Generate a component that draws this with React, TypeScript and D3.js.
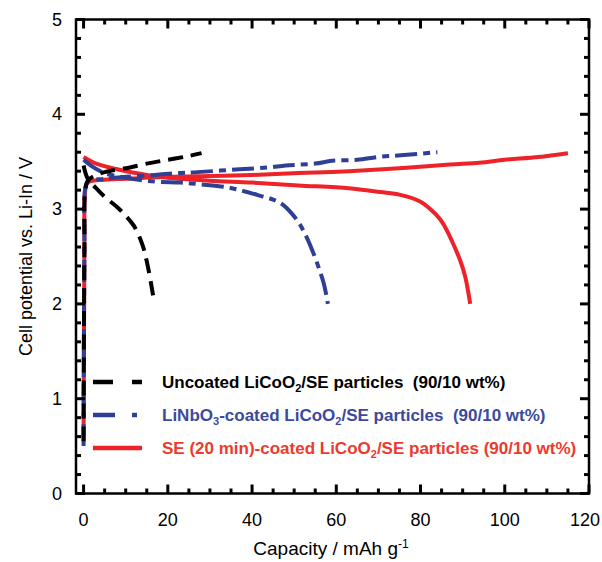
import React, { useEffect, useRef } from "react";
import * as d3 from "d3";

// capacity (mAh/g), potential (V)
const uncoatedCharge: [number, number][] = [
  [0, 0.55], [0.2, 2.6], [0.4, 3.2], [1, 3.3], [3, 3.36], [6, 3.4], [10, 3.43],
  [15, 3.48], [20, 3.52], [25, 3.56], [28, 3.59],
];
const uncoatedDischarge: [number, number][] = [
  [0, 3.46], [1, 3.32], [3, 3.22], [5, 3.13], [8, 3.02], [10, 2.93], [12, 2.82],
  [14, 2.62], [15, 2.45], [16, 2.22], [16.5, 2.09],
];
const niobateCharge: [number, number][] = [
  [0, 0.5], [0.2, 2.6], [0.4, 3.22], [1, 3.29], [5, 3.32], [10, 3.34], [17, 3.36],
  [22, 3.38], [27, 3.39], [37, 3.42], [44, 3.44], [48, 3.46], [55, 3.48],
  [59, 3.51], [65, 3.52], [70, 3.55], [76, 3.57], [84, 3.6],
];
const niobateDischarge: [number, number][] = [
  [0, 3.52], [2, 3.45], [5, 3.38], [10, 3.33], [17, 3.29], [23, 3.28], [28, 3.26],
  [34, 3.23], [38, 3.19], [42, 3.14], [45, 3.1], [47.5, 3.04], [49.5, 2.95],
  [51.2, 2.85], [53, 2.7], [54.7, 2.52], [56, 2.36], [57, 2.22], [57.6, 2.1], [58, 2.0],
];
const seCharge: [number, number][] = [
  [0, 0.6], [0.2, 2.6], [0.4, 3.2], [1, 3.28], [5, 3.31], [10, 3.32], [20, 3.34],
  [30, 3.35], [40, 3.36], [51, 3.38], [63, 3.4], [75, 3.43], [87, 3.47],
  [94, 3.49], [100, 3.52], [108, 3.55], [115, 3.59],
];
const seDischarge: [number, number][] = [
  [0, 3.55], [3, 3.48], [8, 3.42], [15, 3.36], [20, 3.33], [30, 3.3], [40, 3.28],
  [51, 3.25], [63, 3.22], [70.4, 3.18], [75.2, 3.15], [79.9, 3.08], [82.3, 3.0],
  [84.7, 2.89], [86.2, 2.78], [87.7, 2.64], [89.4, 2.46], [90.6, 2.29], [91.8, 2.0],
];

const xTicks = [0, 20, 40, 60, 80, 100, 120];
const yTicks = [0, 1, 2, 3, 4, 5];

const BLACK = "#000000";
const BLUE = "#2f3f95";
const RED = "#ee2229";

const App = () => {
  const svgRef = useRef<SVGSVGElement>(null);

  useEffect(() => {
    document.body.style.margin = "0";
    const svg = d3.select(svgRef.current);
    svg.selectAll("*").remove();

    const left = 76, right = 589, top = 19.5, bottom = 493.5;
    const x = d3.scaleLinear().domain([-1.8, 120]).range([left, right]);
    const y = d3.scaleLinear().domain([0, 5]).range([bottom, top]);
    const font = "'Liberation Sans', Arial, sans-serif";

    const line = d3
      .line<[number, number]>()
      .x((d) => x(d[0]))
      .y((d) => y(d[1]))
      .curve(d3.curveCatmullRom.alpha(0.5));

    const series = [
      { data: seCharge, color: RED, dash: null },
      { data: seDischarge, color: RED, dash: null },
      { data: niobateCharge, color: BLUE, dash: "22 6 7 6" },
      { data: niobateDischarge, color: BLUE, dash: "22 6 7 6" },
      { data: uncoatedCharge, color: BLACK, dash: "15 8" },
      { data: uncoatedDischarge, color: BLACK, dash: "15 8" },
    ];

    series.forEach((s) => {
      svg
        .append("path")
        .attr("d", line(s.data))
        .attr("fill", "none")
        .attr("stroke", s.color)
        .attr("stroke-width", 4)
        .attr("stroke-dasharray", s.dash);
    });

    // frame
    svg
      .append("rect")
      .attr("x", left)
      .attr("y", top)
      .attr("width", right - left)
      .attr("height", bottom - top)
      .attr("fill", "none")
      .attr("stroke", "#000")
      .attr("stroke-width", 2.5);

    // ticks, inward on all sides
    const xMinor = d3.range(0, 121, 5);
    const yMinor = d3.range(0, 5.01, 0.2);
    const ticks = svg.append("g").attr("stroke", "#000").attr("stroke-width", 3);
    xMinor.forEach((v) => {
      const len = v % 20 === 0 ? 9 : 5;
      ticks.append("line").attr("x1", x(v)).attr("x2", x(v)).attr("y1", bottom).attr("y2", bottom - len);
      ticks.append("line").attr("x1", x(v)).attr("x2", x(v)).attr("y1", top).attr("y2", top + len);
    });
    yMinor.forEach((v) => {
      const major = Math.abs(v - Math.round(v)) < 1e-6;
      const len = major ? 9 : 5;
      ticks.append("line").attr("x1", left).attr("x2", left + len).attr("y1", y(v)).attr("y2", y(v));
      ticks.append("line").attr("x1", right).attr("x2", right - len).attr("y1", y(v)).attr("y2", y(v));
    });

    // tick labels (last one kept inside the page)
    svg
      .append("g")
      .selectAll("text")
      .data(xTicks)
      .join("text")
      .attr("x", (d) => Math.min(x(d), 585))
      .attr("y", 526)
      .attr("text-anchor", "middle")
      .attr("font-family", font)
      .attr("font-size", 18)
      .text((d) => d);

    svg
      .append("g")
      .selectAll("text")
      .data(yTicks)
      .join("text")
      .attr("x", 62)
      .attr("y", (d) => y(d) + 6)
      .attr("text-anchor", "end")
      .attr("font-family", font)
      .attr("font-size", 18)
      .text((d) => d);

    // axis titles
    const xt = svg
      .append("text")
      .attr("x", 331)
      .attr("y", 555)
      .attr("text-anchor", "middle")
      .attr("font-family", font)
      .attr("font-size", 19);
    xt.append("tspan").text("Capacity / mAh g");
    xt.append("tspan").attr("font-size", 12).attr("dy", -7).text("-1");

    svg
      .append("text")
      .attr("transform", `translate(32,${(top + bottom) / 2}) rotate(-90)`)
      .attr("text-anchor", "middle")
      .attr("font-family", font)
      .attr("font-size", 18)
      .text("Cell potential vs. Li-In / V");

    // legend
    const legend = [
      { color: BLACK, text: "#000", dash: "20 19 10 40", parts: [["Uncoated LiCoO", ""], ["2", "sub"], ["/SE particles  (90/10 wt%)", ""]] },
      { color: BLUE, text: "#3a4a9e", dash: "22 17 5 40", parts: [["LiNbO", ""], ["3", "sub"], ["-coated LiCoO", ""], ["2", "sub"], ["/SE particles  (90/10 wt%)", ""]] },
      { color: RED, text: "#ee3a2e", dash: null, parts: [["SE (20 min)-coated LiCoO", ""], ["2", "sub"], ["/SE particles (90/10 wt%)", ""]] },
    ];
    const rowY = [382, 415, 448];
    legend.forEach((item, i) => {
      const g = svg.append("g");
      g.append("line")
        .attr("x1", 93)
        .attr("x2", 142)
        .attr("y1", rowY[i])
        .attr("y2", rowY[i])
        .attr("stroke", item.color)
        .attr("stroke-width", 4.5)
        .attr("stroke-dasharray", item.dash);
      const t = g
        .append("text")
        .attr("x", 162)
        .attr("y", rowY[i] + 6)
        .attr("font-family", font)
        .attr("font-weight", "bold")
        .attr("font-size", 17)
        .attr("fill", item.text)
        .style("white-space", "pre");
      item.parts.forEach(([txt, kind], k) => {
        if (kind === "sub") {
          t.append("tspan").attr("font-size", 11).attr("dy", 4).text(txt);
        } else {
          const ts = t.append("tspan").text(txt);
          if (k > 0) ts.attr("dy", -4);
        }
      });
    });
  }, []);

  return <svg ref={svgRef} width={602} height={562} style={{ display: "block" }} />;
};

export default App;
